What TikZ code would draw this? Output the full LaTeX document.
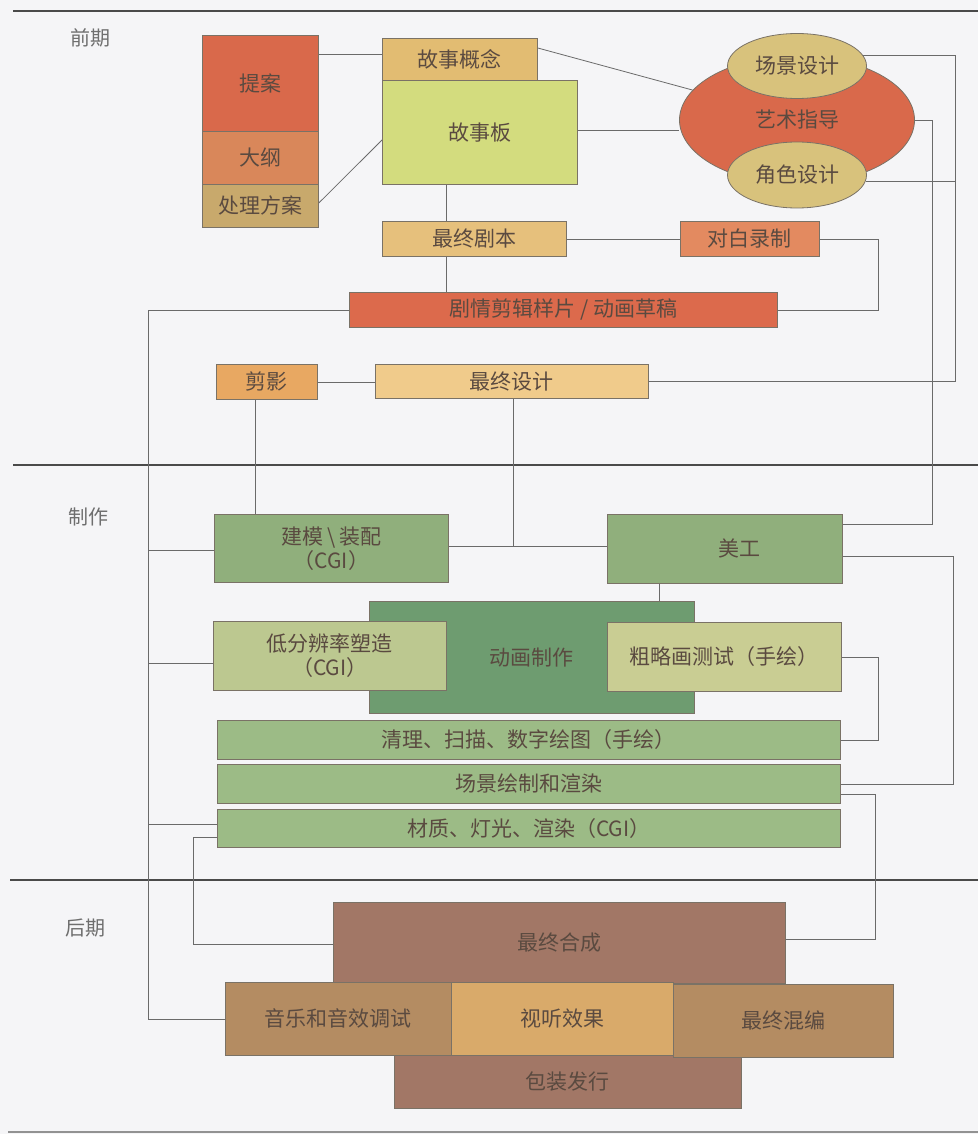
\documentclass[tikz,border=0pt]{standalone}
\usepackage{fontspec}
\setmainfont{Noto Sans CJK SC}
\usetikzlibrary{shapes.geometric}
\pgfdeclarelayer{paper}
\pgfdeclarelayer{bg}
\pgfsetlayers{paper,bg,main}
\definecolor{bgc}{HTML}{F5F5F7}
\definecolor{txt}{HTML}{5A4A40}
\definecolor{lbl}{HTML}{6E6E6E}
\definecolor{bord}{HTML}{7A7266}
\definecolor{conc}{HTML}{6A6A6A}
\definecolor{sepc}{HTML}{4A4A4A}
\definecolor{cTian}{HTML}{D9694B}
\definecolor{cDagang}{HTML}{D9875A}
\definecolor{cChuli}{HTML}{C8A96C}
\definecolor{cGainian}{HTML}{E2BC72}
\definecolor{cBan}{HTML}{D3DC7E}
\definecolor{cJuben}{HTML}{E6C07C}
\definecolor{cDuibai}{HTML}{E38A60}
\definecolor{cJianji}{HTML}{DC6A4C}
\definecolor{cSmall}{HTML}{D8C27C}
\definecolor{cJianying}{HTML}{E8A862}
\definecolor{cSheji}{HTML}{F0CB8B}
\definecolor{cGreen}{HTML}{90AF7C}
\definecolor{cDark}{HTML}{6E9C70}
\definecolor{cLight}{HTML}{BCC890}
\definecolor{cLight2}{HTML}{C9CD93}
\definecolor{cBar}{HTML}{9CBB86}
\definecolor{cMauve}{HTML}{A27766}
\definecolor{cTan}{HTML}{B48C62}
\definecolor{cGold}{HTML}{D9AA6A}
\tikzset{
  box/.style={draw=bord, line width=0.8pt, inner sep=0pt, anchor=north west,
    font=\fontsize{21}{24}\selectfont, text=txt, align=center},
  oval/.style={ellipse, draw=bord, line width=0.8pt, inner sep=0pt,
    font=\fontsize{21}{24}\selectfont, text=txt},
  conn/.style={draw=conc, line width=0.8pt},
  sepline/.style={draw=sepc, line width=1.8pt},
  phase/.style={font=\fontsize{20}{23}\selectfont, text=lbl}
}
\begin{document}
\begin{tikzpicture}[x=1pt,y=-1pt]
\begin{pgfonlayer}{paper}
\fill[bgc] (0,0) rectangle (978,1134);
\end{pgfonlayer}
\useasboundingbox (0,0) rectangle (978,1134);

% phase labels
\node[phase] (pre) at (90,38) {前期};
\node[phase] (mid) at (88,517) {制作};
\node[phase] (post) at (85,928) {后期};

% pre-production
\node[box, fill=cTian, minimum width=116pt, minimum height=96pt] (tian) at (202,35) {提案};
\node[box, fill=cDagang, minimum width=116pt, minimum height=53pt] (dagang) at (202,131) {大纲};
\node[box, fill=cChuli, minimum width=116pt, minimum height=43pt] (chuli) at (202,184) {处理方案};
\node[box, fill=cGainian, minimum width=155pt, minimum height=42pt] (gainian) at (382,38) {故事概念};
\node[box, fill=cBan, minimum width=195pt, minimum height=104pt] (ban) at (382,80) {故事板};
\node[box, fill=cJuben, minimum width=184pt, minimum height=35pt] (juben) at (382,221) {最终剧本};
\node[box, fill=cDuibai, minimum width=139pt, minimum height=35pt] (duibai) at (680,221) {对白录制};
\node[box, fill=cJianji, minimum width=428pt, minimum height=35pt] (jianji) at (349,292) {剧情剪辑样片 / 动画草稿};

\node[oval, fill=cTian, minimum width=235pt, minimum height=128pt] (art) at (797,120) {艺术指导};
\node[oval, fill=cSmall, minimum width=139pt, minimum height=65pt] (cjs) at (797,66) {场景设计};
\node[oval, fill=cSmall, minimum width=139pt, minimum height=66pt] (jss) at (797,175) {角色设计};

\node[box, fill=cJianying, minimum width=101pt, minimum height=35pt] (jianying) at (216,364) {剪影};
\node[box, fill=cSheji, minimum width=273pt, minimum height=34pt] (sheji) at (375,364) {最终设计};

% production
\node[box, fill=cGreen, minimum width=234pt, minimum height=68pt] (jianmo) at (214,514) {建模\,\textbackslash\,装配\\（CGI）};
\node[box, fill=cGreen, minimum width=235pt, minimum height=69pt] (meigong) at (607,514) {\hspace*{30pt}美工};
\node[box, fill=cDark, minimum width=325pt, minimum height=112pt] (donghua) at (369,601) {动画制作};
\node[box, fill=cLight, minimum width=233pt, minimum height=69pt] (difen) at (213,621) {低分辨率塑造\\（CGI）};
\node[box, fill=cLight2, minimum width=234pt, minimum height=69pt] (culue) at (607,622) {粗略画测试（手绘）};
\node[box, fill=cBar, minimum width=623pt, minimum height=39pt] (qingli) at (217,720) {清理、扫描、数字绘图（手绘）};
\node[box, fill=cBar, minimum width=623pt, minimum height=39pt] (changjing) at (217,764) {场景绘制和渲染};
\node[box, fill=cBar, minimum width=623pt, minimum height=38pt] (caizhi) at (217,809) {材质、灯光、渲染（CGI）};

% post-production
\node[box, fill=cMauve, minimum width=452pt, minimum height=81pt] (hecheng) at (333,902) {最终合成};
\node[box, fill=cMauve, minimum width=347pt, minimum height=53pt] (baozhuang) at (394,1055) {包装发行};
\node[box, fill=cTan, minimum width=226pt, minimum height=73pt] (yinyue) at (225,982) {音乐和音效调试};
\node[box, fill=cGold, minimum width=222pt, minimum height=73pt] (shiting) at (451,982) {视听效果};
\node[box, fill=cTan, minimum width=220pt, minimum height=73pt] (hunbian) at (673,984) {最终混编};

\begin{pgfonlayer}{bg}
% phase separators
\draw[sepline] (13,11) -- (978,11);
\draw[sepline] (13,465) -- (978,465);
\draw[sepline] (10,880) -- (978,880);
\draw[sepline, draw=sepc!60] (8,1132) -- (978,1132);

% connectors
\draw[conn] (tian.east |- 0,54) -- (gainian.west |- 0,54);
\draw[conn] (chuli.east |- 0,203) -- (ban.west |- 0,140);
\draw[conn] (gainian.east |- 0,48) -- (art.164);
\draw[conn] (ban.east |- 0,130) -- (art.west |- 0,130);
\draw[conn] (446,0 |- ban.south) -- (446,0 |- juben.north);
\draw[conn] (446,0 |- juben.south) -- (446,0 |- jianji.north);
\draw[conn] (juben.east) -- (duibai.west);
\draw[conn] (duibai.east) -- (878,0 |- duibai.east) -- (878,0 |- jianji.east) -- (jianji.east);
\draw[conn] (jianji.west) -- (148,0 |- jianji.west) -- (148,0 |- yinyue.west) -- (yinyue.west);
\draw[conn] (148,550) -- (jianmo.west |- 0,550);
\draw[conn] (148,663) -- (difen.west |- 0,663);
\draw[conn] (148,824) -- (caizhi.west |- 0,824);
\draw[conn] (cjs.9) -- (955,0 |- cjs.9) -- (955,0 |- sheji.east) -- (sheji.east);
\draw[conn] (jss.-5) -- (955,0 |- jss.-5);
\draw[conn] (art.east) -- (932,0 |- art.east) -- (932,524) -- (meigong.east |- 0,524);
\draw[conn] (jianying.east) -- (sheji.west |- jianying.east);
\draw[conn] (255,0 |- jianying.south) -- (255,0 |- jianmo.north);
\draw[conn] (513,0 |- sheji.south) -- (513,546);
\draw[conn] (jianmo.east |- 0,546) -- (meigong.west |- 0,546);
\draw[conn] (659,0 |- meigong.south) -- (659,0 |- donghua.north);
\draw[conn] (meigong.east |- 0,556) -- (953,556) -- (953,0 |- changjing.east) -- (changjing.east);
\draw[conn] (culue.east) -- (878,0 |- culue.east) -- (878,0 |- qingli.east) -- (qingli.east);
\draw[conn] (changjing.east |- 0,794) -- (875,794) -- (875,939) -- (hecheng.east |- 0,939);
\draw[conn] (caizhi.west |- 0,837) -- (193,837) -- (193,944) -- (hecheng.west |- 0,944);
\end{pgfonlayer}
\end{tikzpicture}
\end{document}
